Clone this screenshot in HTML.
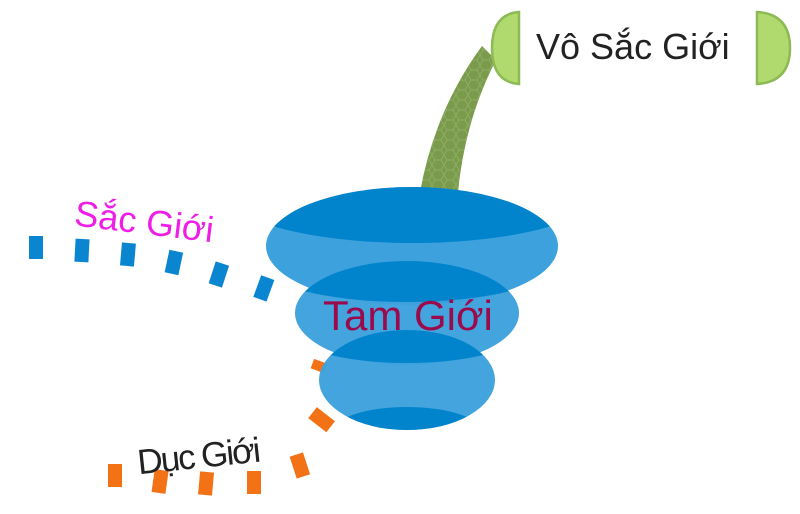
<!DOCTYPE html>
<html><head><meta charset="utf-8"><style>body{margin:0;background:#fff}svg{display:block}</style></head><body>
<svg width="800" height="514" viewBox="0 0 800 514" xmlns="http://www.w3.org/2000/svg">
<defs>
<clipPath id="c1"><ellipse cx="412" cy="246" rx="146" ry="59"/></clipPath>
<clipPath id="c2"><ellipse cx="407" cy="313" rx="112" ry="52"/></clipPath>
<clipPath id="c3"><ellipse cx="407" cy="380" rx="88" ry="50"/></clipPath>
<pattern id="hex" width="12" height="10" patternUnits="userSpaceOnUse"><path d="M0 5 L3 0 L9 0 L12 5 L9 10 L3 10 Z" fill="none" stroke="#94b46a" stroke-width="0.7"/></pattern>
</defs>
<path d="M420 192 Q435 110 482 46 L496 60 Q465 120 458 192 Z" fill="#7a9b4c"/>
<path d="M420 192 Q435 110 482 46 L496 60 Q465 120 458 192 Z" fill="url(#hex)"/>
<path d="M519 12 Q492 14 492 48 Q492 82 519 84 Z" fill="#b0d96e" stroke="#8dba55" stroke-width="2.5"/>
<path d="M757 12 Q790 14 790 48 Q790 82 757 84 Z" fill="#b0d96e" stroke="#8dba55" stroke-width="2.5"/>
<text x="536" y="59" font-family="Liberation Sans, sans-serif" font-size="36" fill="#222">Vô Sắc Giới</text>
<g fill="#0a86d0">
<rect x="29" y="236" width="14" height="23"/>
<rect x="75" y="239" width="14" height="23" transform="rotate(3 82 250)"/>
<rect x="121" y="243" width="14" height="23" transform="rotate(5 128 254)"/>
<rect x="167" y="251" width="14" height="23" transform="rotate(12 174 262)"/>
<rect x="212" y="263" width="14" height="23" transform="rotate(18 219 274)"/>
<rect x="257" y="277" width="14" height="23" transform="rotate(20 264 288)"/>
</g>
<g fill="#f47216">
<rect x="108" y="464" width="14" height="23"/>
<rect x="153" y="470" width="14" height="23" transform="rotate(8 160 482)"/>
<rect x="199" y="472" width="14" height="23" transform="rotate(5 206 484)"/>
<rect x="247" y="471" width="14" height="23"/>
<rect x="293" y="454" width="14" height="23" transform="rotate(-18 300 466)"/>
<rect x="315" y="408" width="14" height="23" transform="rotate(-52 322 420)"/>
<rect x="314" y="359" width="10" height="14" transform="rotate(-70 319 366)"/>
</g>
<ellipse cx="412" cy="246" rx="146" ry="59" fill="#3da1dd"/>
<ellipse cx="412" cy="190" rx="190" ry="53" fill="#0284cc" clip-path="url(#c1)"/>
<ellipse cx="407" cy="313" rx="112" ry="52" fill="#3da1dd" opacity="0.97"/>
<ellipse cx="407" cy="262" rx="150" ry="40" fill="#0284cc" clip-path="url(#c2)"/>
<ellipse cx="407" cy="380" rx="88" ry="50" fill="#3da1dd" opacity="0.97"/>
<ellipse cx="407" cy="328" rx="120" ry="35" fill="#0284cc" clip-path="url(#c3)"/>
<ellipse cx="407" cy="432" rx="75" ry="25" fill="#0284cc" clip-path="url(#c3)"/>
<text x="323" y="330" font-family="Liberation Sans, sans-serif" font-size="42" fill="#9b0a4b">Tam Giới</text>
<text x="74" y="234" font-family="Liberation Sans, sans-serif" font-size="36" fill="#ee1ee6" transform="rotate(7 145 225)">Sắc Giới</text>
<text x="137" y="468" font-family="Liberation Sans, sans-serif" font-size="35" fill="#222" letter-spacing="-2" transform="rotate(-6 198 455)">Dục Giới</text>
</svg>
</body></html>
